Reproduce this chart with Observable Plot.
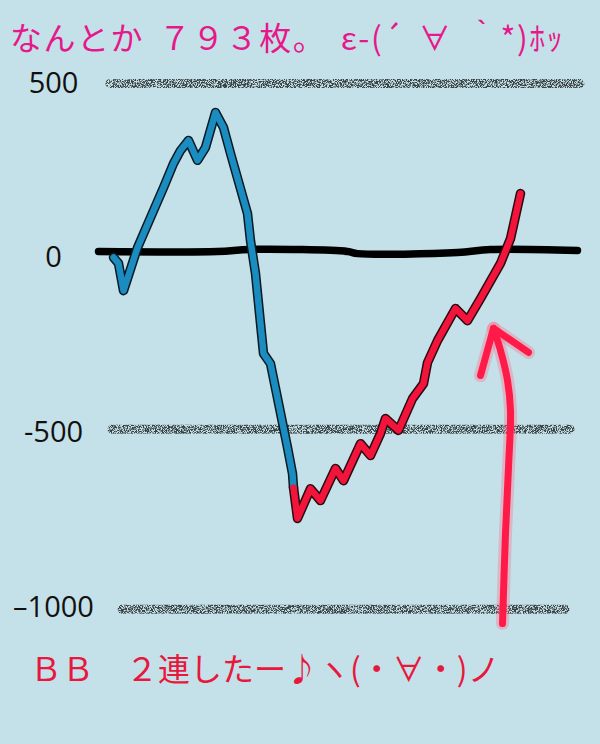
<!DOCTYPE html>
<html>
<head>
<meta charset="utf-8">
<script src="https://cdn.jsdelivr.net/npm/d3@7"></script>
<script src="https://cdn.jsdelivr.net/npm/@observablehq/plot@0.6"></script>
<style>
  html, body { margin: 0; padding: 0; background: #c4e0e9; width: 600px; height: 744px; overflow: hidden; }
  #title { height: 50px; padding-top: 16px; padding-left: 10px; line-height: 40px; font-size: 32px; color: #e5198a;
           letter-spacing: 1.5px; word-spacing: 6px;
           font-family: "Noto Sans CJK JP", "Noto Sans", sans-serif; white-space: nowrap; }
  #caption { height: 62px; line-height: 62px; padding-left: 30px; font-size: 32px; color: #e8173c;
             font-family: "Noto Sans CJK JP", "Noto Sans", sans-serif; white-space: nowrap; }
  svg { display: block; }
</style>
</head>
<body>
<div id="title">なんとか ７９３枚。 ε-(´ ∀ ｀*)ﾎｯ</div>
<div id="chart"></div>
<div id="caption">ＢＢ　２連したー♪ヽ(・∀・)ノ</div>
<script>
// ---- data (games played vs. medal difference) ----
const tickValues = [500, 0, -500, -1000];
const tickLabels = ["500", "0", "-500", "–1000"];

// hand-drawn guide lines (as drawn, slightly off the exact tick values)
const gridY = [500, -490, -1005];
const gridStart = [130, 150, 250];
const gridEnd = [4830, 4730, 4680];

const zeroX = [10, 1200, 1530, 2500, 2600, 3600, 3930, 4800];
const zeroY = [19, 19, 25, 19, 13, 16, 25, 22];

const blueGames = [160, 210, 260, 400, 530, 660, 760, 830, 910, 1000, 1080, 1180, 1260, 1330, 1500, 1530, 1580, 1630, 1660, 1730, 1900, 1950, 1960];
const blueMedals = [2, -15, -93, 30, 116, 202, 271, 308, 337, 280, 317, 417, 374, 300, 128, 50, -44, -187, -273, -302, -542, -617, -657];

const redGames = [1960, 2000, 2130, 2230, 2380, 2460, 2630, 2730, 2830, 2880, 3010, 3150, 3260, 3300, 3400, 3580, 3700, 3830, 4030, 4130, 4230];
const redMedals = [-657, -745, -660, -694, -602, -637, -531, -565, -502, -459, -493, -402, -359, -299, -236, -144, -179, -116, -15, 56, 185];

const arrowX = [4050, 4080, 4110, 4130, 4100, 4030, 3960];
const arrowY = [-1046, -788, -599, -436, -350, -264, -201];
const headX = [3830, 3960, 4310];
const headY = [-336, -201, -270];

// ---- build tables ----
const zip = (xs, ys) => xs.map((x, i) => ({x, y: ys[i]}));
const blue = zip(blueGames, blueMedals);
const red = zip(redGames, redMedals);
const zero = zip(zeroX, zeroY);
const arrow = zip(arrowX, arrowY);
const head = zip(headX, headY);
const grid = gridY.map((y, i) => ({y, x1: gridStart[i], x2: gridEnd[i]}));

const round = {strokeLinejoin: "round", strokeLinecap: "round"};
const GRID = "#384242";

const chart = Plot.plot({
  width: 600,
  height: 570,
  marginLeft: 97,
  marginRight: 20,
  marginTop: 17,
  marginBottom: 29,
  x: {domain: [0, 4830], axis: null},
  y: {domain: [-1000, 500], axis: null},
  style: {background: "transparent", overflow: "visible"},
  marks: [
    Plot.ruleY(grid, {y: "y", x1: "x1", x2: "x2", stroke: GRID, strokeWidth: 9, strokeLinecap: "round"}),
    Plot.line(zero, {x: "x", y: "y", stroke: "#000", strokeWidth: 7.5, curve: "catmull-rom", ...round}),
    Plot.text(tickValues, {y: d => d, text: (d, i) => tickLabels[i], frameAnchor: "left", dx: -44, textAnchor: "middle",
      fontSize: 29, fill: "#111", fontFamily: "Open Sans, Noto Sans, sans-serif"}),
    Plot.line(blue, {x: "x", y: "y", stroke: "#0b1a22", strokeWidth: 9.5, ...round}),
    Plot.line(red, {x: "x", y: "y", stroke: "#2a0a10", strokeWidth: 9.5, ...round}),
    Plot.line(blue, {x: "x", y: "y", stroke: "#1a8cbf", strokeWidth: 6.5, ...round}),
    Plot.line(red, {x: "x", y: "y", stroke: "#f3143c", strokeWidth: 6.5, ...round}),
    Plot.line(arrow, {x: "x", y: "y", stroke: "#ff6a8a", strokeOpacity: 0.35, strokeWidth: 13, curve: "catmull-rom", ...round}),
    Plot.line(head, {x: "x", y: "y", stroke: "#ff6a8a", strokeOpacity: 0.35, strokeWidth: 13, ...round}),
    Plot.line(arrow, {x: "x", y: "y", stroke: "#ff1a47", strokeWidth: 7, curve: "catmull-rom", ...round}),
    Plot.line(head, {x: "x", y: "y", stroke: "#ff1a47", strokeWidth: 7, ...round})
  ]
});

// pencil-like grain on the grid lines
const ns = "http://www.w3.org/2000/svg";
const defs = document.createElementNS(ns, "defs");
defs.innerHTML = `
  <filter id="grain" filterUnits="userSpaceOnUse" x="0" y="0" width="600" height="570">
    <feTurbulence type="fractalNoise" baseFrequency="1.2" numOctaves="2" seed="3" result="n"/>
    <feColorMatrix in="n" type="matrix" values="0 0 0 0 0  0 0 0 0 0  0 0 0 0 0  -5.5 0 0 0 3.3" result="a"/>
    <feComposite in="SourceGraphic" in2="a" operator="in"/>
  </filter>`;
chart.insertBefore(defs, chart.firstChild);
chart.querySelectorAll(`g[stroke='${GRID}']`).forEach(g => g.setAttribute("filter", "url(#grain)"));

document.getElementById("chart").appendChild(chart);
</script>
</body>
</html>
